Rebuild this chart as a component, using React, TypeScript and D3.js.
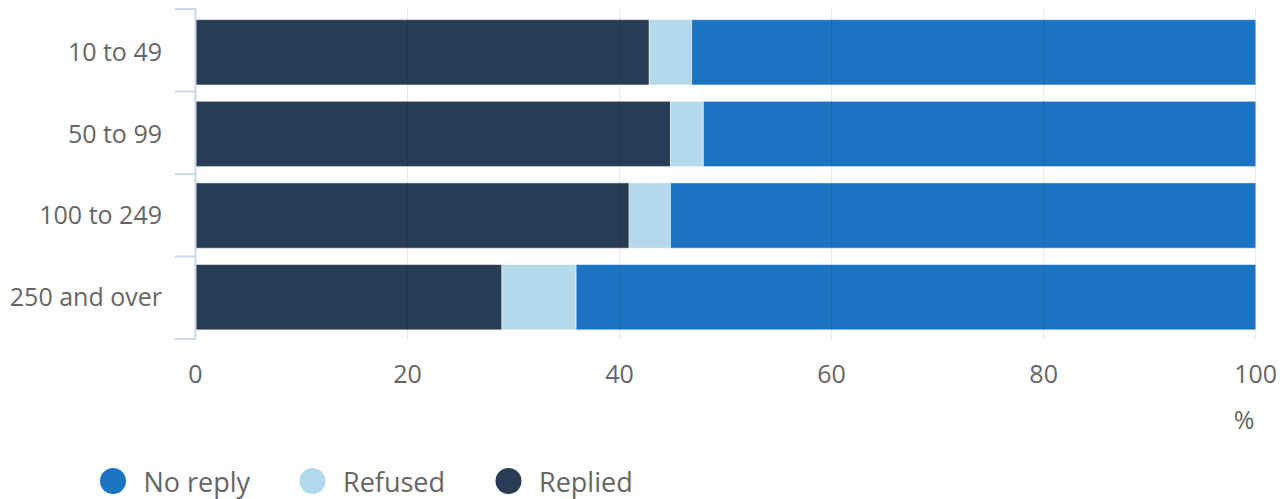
import React from "react";
import * as d3 from "d3";

const categories = ["10 to 49", "50 to 99", "100 to 249", "250 and over"];
const replied = [42.8, 44.8, 40.9, 28.9];
const refused = [4.0, 3.1, 3.9, 7.0];
const noReply = [53.2, 52.1, 55.2, 64.1];
const xTicks = [0, 20, 40, 60, 80, 100];
const seriesNames = ["Replied", "Refused", "No reply"];
const legendOrder = ["No reply", "Refused", "Replied"];
const colors: Record<string, string> = {
  Replied: "#283d55",
  Refused: "#b3d9ea",
  "No reply": "#1b74c2",
};

const W = 1284;
const H = 499;
const FONT = "'Open Sans', sans-serif";

export default function App() {
  const x = d3.scaleLinear().domain([0, 100]).range([195.5, 1255.7]);
  const y = d3
    .scaleBand<string>()
    .domain(categories)
    .range([11.5, 338])
    .paddingInner(0.2)
    .paddingOuter(0.1);

  const rows = categories.map((c, i) => ({
    cat: c,
    Replied: replied[i],
    Refused: refused[i],
    "No reply": noReply[i],
  }));
  const stack = d3.stack<any>().keys(seriesNames)(rows);

  const boundaries = d3.range(categories.length + 1).map((i) => 9 + i * 82.5);

  const legendX = [113, 312.5, 508.5];

  return (
    <svg
      width={W}
      height={H}
      style={{ position: "absolute", left: 0, top: 0, display: "block" }}
      fontFamily={FONT}
    >
      <rect width={W} height={H} fill="#fff" />
      {stack.map((s) => (
        <g key={s.key}>
          {s.map((d, i) => (
            <rect
              key={i}
              x={x(d[0])}
              y={y(categories[i])!}
              width={x(d[1]) - x(d[0])}
              height={y.bandwidth()}
              fill={colors[s.key]}
              stroke="rgba(255,255,255,0.5)"
              strokeWidth={1}
            />
          ))}
        </g>
      ))}
      {xTicks.map((t) => (
        <line
          key={t}
          x1={x(t)}
          x2={x(t)}
          y1={9}
          y2={339}
          stroke="rgba(0,0,0,0.1)"
          strokeWidth={1}
        />
      ))}
      <line x1={195.5} x2={195.5} y1={9} y2={339} stroke="#ccd6eb" strokeWidth={2} />
      {boundaries.map((b, i) => (
        <line key={i} x1={175} x2={196} y1={b} y2={b} stroke="#ccd6eb" strokeWidth={2} />
      ))}
      {categories.map((c) => (
        <text
          key={c}
          x={162}
          y={y(c)! + y.bandwidth() / 2}
          dy="0.35em"
          textAnchor="end"
          fontSize={25}
          fill="#666"
        >
          {c}
        </text>
      ))}
      {xTicks.map((t) => (
        <text
          key={t}
          x={x(t)}
          y={383}
          textAnchor="middle"
          fontSize={25}
          fill="#666"
        >
          {t}
        </text>
      ))}
      <text x={1244} y={429} textAnchor="middle" fontSize={25} fill="#666">
        %
      </text>
      {legendOrder.map((n, i) => (
        <g key={n}>
          <circle cx={legendX[i]} cy={481} r={13} fill={colors[n]} />
          <text x={legendX[i] + 30.5} y={492} fontSize={27} fill="#666">
            {n}
          </text>
        </g>
      ))}
    </svg>
  );
}
